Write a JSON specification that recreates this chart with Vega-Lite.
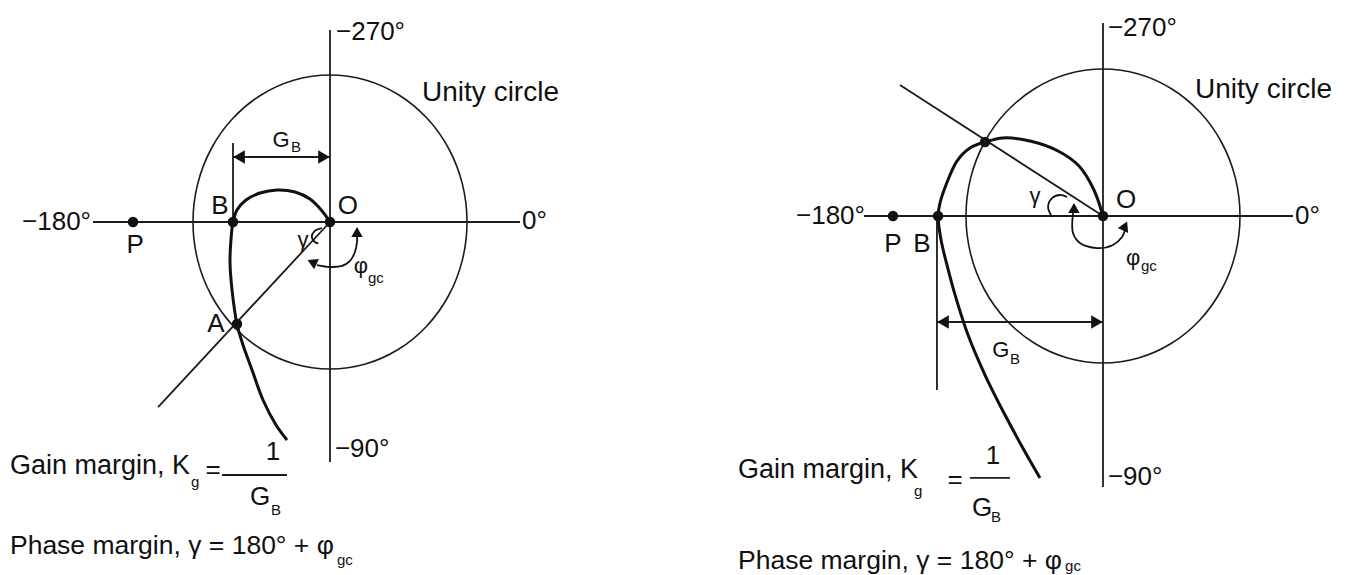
{
  "$schema": "https://vega.github.io/schema/vega-lite/v6.json",
  "padding": 0,
  "spacing": 0,
  "background": "white",
  "config": {"view": {"stroke": null}, "concat": {"spacing": 0}},
  "datasets": {
    "unit": [
      {"i": 0, "x": 1, "y": 0}, {"i": 1, "x": 0.966, "y": 0.259}, {"i": 2, "x": 0.866, "y": 0.5},
      {"i": 3, "x": 0.707, "y": 0.707}, {"i": 4, "x": 0.5, "y": 0.866}, {"i": 5, "x": 0.259, "y": 0.966},
      {"i": 6, "x": 0, "y": 1}, {"i": 7, "x": -0.259, "y": 0.966}, {"i": 8, "x": -0.5, "y": 0.866},
      {"i": 9, "x": -0.707, "y": 0.707}, {"i": 10, "x": -0.866, "y": 0.5}, {"i": 11, "x": -0.966, "y": 0.259},
      {"i": 12, "x": -1, "y": 0}, {"i": 13, "x": -0.966, "y": -0.259}, {"i": 14, "x": -0.866, "y": -0.5},
      {"i": 15, "x": -0.707, "y": -0.707}, {"i": 16, "x": -0.5, "y": -0.866}, {"i": 17, "x": -0.259, "y": -0.966},
      {"i": 18, "x": 0, "y": -1}, {"i": 19, "x": 0.259, "y": -0.966}, {"i": 20, "x": 0.5, "y": -0.866},
      {"i": 21, "x": 0.707, "y": -0.707}, {"i": 22, "x": 0.866, "y": -0.5}, {"i": 23, "x": 0.966, "y": -0.259}
    ]
  },
  "hconcat": [
    {
      "width": 676,
      "height": 575,
      "encoding": {
        "x": {"field": "x", "type": "quantitative", "scale": {"domain": [-2.4088, 2.5255], "nice": false, "zero": false}, "axis": null},
        "y": {"field": "y", "type": "quantitative", "scale": {"domain": [-2.4014, 1.5102], "nice": false, "zero": false}, "axis": null}
      },
      "layer": [
        {
          "data": {"name": "unit"},
          "mark": {"type": "line", "interpolate": "cardinal-closed", "stroke": "#1c1c1c", "strokeWidth": 1.6},
          "encoding": {"order": {"field": "i"}}
        },
        {
          "data": {"values": [
            {"x": 0, "y": 1.306, "x2": 0, "y2": -1.633},
            {"x": -1.73, "y": 0, "x2": 1.387, "y2": 0},
            {"x": -1.255, "y": -1.259, "x2": 0, "y2": 0},
            {"x": -0.708, "y": 0.537, "x2": -0.708, "y2": 0},
            {"x": -0.708, "y": 0.442, "x2": 0, "y2": 0.442},
            {"x": -0.788, "y": -1.721, "x2": -0.314, "y2": -1.721}
          ]},
          "mark": {"type": "rule", "stroke": "#1c1c1c", "strokeWidth": 1.8},
          "encoding": {"x2": {"field": "x2"}, "y2": {"field": "y2"}}
        },
        {
          "data": {"values": [
            {"i": 0, "x": 0, "y": 0}, {"i": 1, "x": -0.058, "y": 0.075}, {"i": 2, "x": -0.146, "y": 0.156},
            {"i": 3, "x": -0.255, "y": 0.204}, {"i": 4, "x": -0.387, "y": 0.218}, {"i": 5, "x": -0.511, "y": 0.197},
            {"i": 6, "x": -0.613, "y": 0.15}, {"i": 7, "x": -0.679, "y": 0.082}, {"i": 8, "x": -0.708, "y": 0},
            {"i": 9, "x": -0.723, "y": -0.122}, {"i": 10, "x": -0.73, "y": -0.272}, {"i": 11, "x": -0.715, "y": -0.463},
            {"i": 12, "x": -0.679, "y": -0.694}, {"i": 13, "x": -0.635, "y": -0.837}, {"i": 14, "x": -0.569, "y": -1.007},
            {"i": 15, "x": -0.489, "y": -1.211}, {"i": 16, "x": -0.394, "y": -1.381}, {"i": 17, "x": -0.314, "y": -1.483}
          ]},
          "mark": {"type": "line", "interpolate": "catmull-rom", "stroke": "#111111", "strokeWidth": 3},
          "encoding": {"order": {"field": "i"}}
        },
        {
          "data": {"values": [
            {"arc": "phi", "i": 0, "x": -0.095, "y": -0.293}, {"arc": "phi", "i": 1, "x": 0, "y": -0.306},
            {"arc": "phi", "i": 2, "x": 0.088, "y": -0.299}, {"arc": "phi", "i": 3, "x": 0.146, "y": -0.265},
            {"arc": "phi", "i": 4, "x": 0.182, "y": -0.204}, {"arc": "phi", "i": 5, "x": 0.197, "y": -0.136},
            {"arc": "phi", "i": 6, "x": 0.197, "y": -0.088},
            {"arc": "gamma", "i": 0, "x": -0.06, "y": -0.041}, {"arc": "gamma", "i": 1, "x": -0.111, "y": -0.061},
            {"arc": "gamma", "i": 2, "x": -0.133, "y": -0.102}, {"arc": "gamma", "i": 3, "x": -0.111, "y": -0.136},
            {"arc": "gamma", "i": 4, "x": -0.085, "y": -0.146}
          ]},
          "mark": {"type": "line", "interpolate": "catmull-rom", "stroke": "#111111", "strokeWidth": 1.8},
          "encoding": {"order": {"field": "i"}, "detail": {"field": "arc"}}
        },
        {
          "data": {"values": [
            {"name": "P", "x": -1.438, "y": 0}, {"name": "B", "x": -0.708, "y": 0},
            {"name": "O", "x": 0, "y": 0}, {"name": "A", "x": -0.679, "y": -0.694}
          ]},
          "mark": {"type": "point", "filled": true, "size": 110, "color": "#111111", "opacity": 1}
        },
        {
          "data": {"values": [{"x": -0.664, "y": 0.442}]},
          "mark": {"type": "point", "shape": "triangle-left", "filled": true, "size": 180, "color": "#111111", "opacity": 1}
        },
        {
          "data": {"values": [{"x": -0.044, "y": 0.442}]},
          "mark": {"type": "point", "shape": "triangle-right", "filled": true, "size": 180, "color": "#111111", "opacity": 1}
        },
        {
          "data": {"values": [{"x": -0.131, "y": -0.272}]},
          "mark": {"type": "point", "shape": "triangle-left", "angle": 25, "filled": true, "size": 130, "color": "#111111", "opacity": 1}
        },
        {
          "data": {"values": [{"x": 0.197, "y": -0.068}]},
          "mark": {"type": "point", "shape": "triangle-up", "filled": true, "size": 130, "color": "#111111", "opacity": 1}
        },
        {
          "data": {"values": [
            {"t": "−270°", "x": 0.044, "y": 1.293},
            {"t": "−180°", "x": -2.248, "y": 0},
            {"t": "0°", "x": 1.401, "y": 0.007},
            {"t": "−90°", "x": 0.036, "y": -1.544}
          ]},
          "mark": {"type": "text", "font": "Liberation Sans", "fontSize": 26, "align": "left", "baseline": "middle", "color": "#111111"},
          "encoding": {"text": {"field": "t"}}
        },
        {
          "data": {"values": [{"t": "Unity circle", "x": 0.672, "y": 0.878}]},
          "mark": {"type": "text", "font": "Liberation Sans", "fontSize": 28, "align": "left", "baseline": "middle", "color": "#111111"},
          "encoding": {"text": {"field": "t"}}
        },
        {
          "data": {"values": [{"t": "Gain margin, K", "x": -2.336, "y": -1.66}]},
          "mark": {"type": "text", "font": "Liberation Sans", "fontSize": 27, "align": "left", "baseline": "middle", "color": "#111111"},
          "encoding": {"text": {"field": "t"}}
        },
        {
          "data": {"values": [{"t": "Phase margin, γ = 180° + φ", "x": -2.336, "y": -2.204}]},
          "mark": {"type": "text", "font": "Liberation Sans", "fontSize": 26.5, "align": "left", "baseline": "middle", "color": "#111111"},
          "encoding": {"text": {"field": "t"}}
        },
        {
          "data": {"values": [
            {"t": "P", "x": -1.423, "y": -0.156},
            {"t": "B", "x": -0.803, "y": 0.109},
            {"t": "O", "x": 0.131, "y": 0.109},
            {"t": "A", "x": -0.832, "y": -0.694},
            {"t": "=", "x": -0.854, "y": -1.687},
            {"t": "1", "x": -0.416, "y": -1.565},
            {"t": "G", "x": -0.511, "y": -1.871}
          ]},
          "mark": {"type": "text", "font": "Liberation Sans", "fontSize": 26, "align": "center", "baseline": "middle", "color": "#111111"},
          "encoding": {"text": {"field": "t"}}
        },
        {
          "data": {"values": [
            {"t": "γ", "x": -0.197, "y": -0.122},
            {"t": "φ", "x": 0.226, "y": -0.299},
            {"t": "G", "x": -0.358, "y": 0.558}
          ]},
          "mark": {"type": "text", "font": "Liberation Sans", "fontSize": 22, "align": "center", "baseline": "middle", "color": "#111111"},
          "encoding": {"text": {"field": "t"}}
        },
        {
          "data": {"values": [
            {"t": "gc", "x": 0.277, "y": -0.381},
            {"t": "B", "x": -0.285, "y": 0.51},
            {"t": "g", "x": -1.015, "y": -1.769},
            {"t": "B", "x": -0.431, "y": -1.959},
            {"t": "gc", "x": 0.051, "y": -2.299}
          ]},
          "mark": {"type": "text", "font": "Liberation Sans", "fontSize": 15, "align": "left", "baseline": "middle", "color": "#111111"},
          "encoding": {"text": {"field": "t"}}
        }
      ]
    },
    {
      "width": 675,
      "height": 575,
      "encoding": {
        "x": {"field": "x", "type": "quantitative", "scale": {"domain": [-3.1168, 1.8102], "nice": false, "zero": false}, "axis": null},
        "y": {"field": "y", "type": "quantitative", "scale": {"domain": [-2.4422, 1.4694], "nice": false, "zero": false}, "axis": null}
      },
      "layer": [
        {
          "data": {"name": "unit"},
          "mark": {"type": "line", "interpolate": "cardinal-closed", "stroke": "#1c1c1c", "strokeWidth": 1.6},
          "encoding": {"order": {"field": "i"}}
        },
        {
          "data": {"values": [
            {"x": 0, "y": 1.313, "x2": 0, "y2": -1.844},
            {"x": -1.745, "y": 0, "x2": 1.387, "y2": 0},
            {"x": -1.482, "y": 0.891, "x2": 0, "y2": 0},
            {"x": -1.212, "y": 0, "x2": -1.212, "y2": -1.184},
            {"x": -1.212, "y": -0.721, "x2": 0, "y2": -0.721},
            {"x": -0.971, "y": -1.782, "x2": -0.679, "y2": -1.782}
          ]},
          "mark": {"type": "rule", "stroke": "#1c1c1c", "strokeWidth": 1.8},
          "encoding": {"x2": {"field": "x2"}, "y2": {"field": "y2"}}
        },
        {
          "data": {"values": [
            {"i": 0, "x": 0, "y": 0}, {"i": 1, "x": -0.066, "y": 0.177}, {"i": 2, "x": -0.175, "y": 0.34},
            {"i": 3, "x": -0.328, "y": 0.442}, {"i": 4, "x": -0.533, "y": 0.51}, {"i": 5, "x": -0.73, "y": 0.531},
            {"i": 6, "x": -0.861, "y": 0.503}, {"i": 7, "x": -0.971, "y": 0.463}, {"i": 8, "x": -1.066, "y": 0.374},
            {"i": 9, "x": -1.146, "y": 0.211}, {"i": 10, "x": -1.19, "y": 0.088}, {"i": 11, "x": -1.204, "y": 0},
            {"i": 12, "x": -1.182, "y": -0.163}, {"i": 13, "x": -1.139, "y": -0.333}, {"i": 14, "x": -1.08, "y": -0.537},
            {"i": 15, "x": -0.985, "y": -0.81}, {"i": 16, "x": -0.861, "y": -1.082}, {"i": 17, "x": -0.715, "y": -1.354},
            {"i": 18, "x": -0.577, "y": -1.592}, {"i": 19, "x": -0.46, "y": -1.782}
          ]},
          "mark": {"type": "line", "interpolate": "catmull-rom", "stroke": "#111111", "strokeWidth": 3},
          "encoding": {"order": {"field": "i"}}
        },
        {
          "data": {"values": [
            {"arc": "phi", "i": 0, "x": -0.219, "y": 0.02}, {"arc": "phi", "i": 1, "x": -0.219, "y": -0.116},
            {"arc": "phi", "i": 2, "x": -0.168, "y": -0.184}, {"arc": "phi", "i": 3, "x": -0.044, "y": -0.218},
            {"arc": "phi", "i": 4, "x": 0.073, "y": -0.197}, {"arc": "phi", "i": 5, "x": 0.139, "y": -0.143},
            {"arc": "phi", "i": 6, "x": 0.161, "y": -0.095},
            {"arc": "gamma", "i": 0, "x": -0.263, "y": 0.129}, {"arc": "gamma", "i": 1, "x": -0.314, "y": 0.143},
            {"arc": "gamma", "i": 2, "x": -0.372, "y": 0.122}, {"arc": "gamma", "i": 3, "x": -0.401, "y": 0.061},
            {"arc": "gamma", "i": 4, "x": -0.372, "y": -0.007}
          ]},
          "mark": {"type": "line", "interpolate": "catmull-rom", "stroke": "#111111", "strokeWidth": 1.8},
          "encoding": {"order": {"field": "i"}, "detail": {"field": "arc"}}
        },
        {
          "data": {"values": [
            {"name": "P", "x": -1.533, "y": 0}, {"name": "B", "x": -1.204, "y": 0},
            {"name": "gc", "x": -0.861, "y": 0.503}, {"name": "O", "x": 0, "y": 0}
          ]},
          "mark": {"type": "point", "filled": true, "size": 110, "color": "#111111", "opacity": 1}
        },
        {
          "data": {"values": [{"x": -1.168, "y": -0.721}]},
          "mark": {"type": "point", "shape": "triangle-left", "filled": true, "size": 180, "color": "#111111", "opacity": 1}
        },
        {
          "data": {"values": [{"x": -0.044, "y": -0.721}]},
          "mark": {"type": "point", "shape": "triangle-right", "filled": true, "size": 180, "color": "#111111", "opacity": 1}
        },
        {
          "data": {"values": [{"x": -0.212, "y": 0.054}]},
          "mark": {"type": "point", "shape": "triangle-up", "filled": true, "size": 130, "color": "#111111", "opacity": 1}
        },
        {
          "data": {"values": [{"x": 0.161, "y": -0.068}]},
          "mark": {"type": "point", "shape": "triangle-up", "angle": 25, "filled": true, "size": 130, "color": "#111111", "opacity": 1}
        },
        {
          "data": {"values": [
            {"t": "−270°", "x": 0.036, "y": 1.279},
            {"t": "−180°", "x": -2.241, "y": 0},
            {"t": "0°", "x": 1.401, "y": 0},
            {"t": "−90°", "x": 0.036, "y": -1.776}
          ]},
          "mark": {"type": "text", "font": "Liberation Sans", "fontSize": 26, "align": "left", "baseline": "middle", "color": "#111111"},
          "encoding": {"text": {"field": "t"}}
        },
        {
          "data": {"values": [{"t": "Unity circle", "x": 0.672, "y": 0.857}]},
          "mark": {"type": "text", "font": "Liberation Sans", "fontSize": 28, "align": "left", "baseline": "middle", "color": "#111111"},
          "encoding": {"text": {"field": "t"}}
        },
        {
          "data": {"values": [{"t": "Gain margin, K", "x": -2.664, "y": -1.728}]},
          "mark": {"type": "text", "font": "Liberation Sans", "fontSize": 27, "align": "left", "baseline": "middle", "color": "#111111"},
          "encoding": {"text": {"field": "t"}}
        },
        {
          "data": {"values": [{"t": "Phase margin, γ = 180° + φ", "x": -2.664, "y": -2.347}]},
          "mark": {"type": "text", "font": "Liberation Sans", "fontSize": 26.5, "align": "left", "baseline": "middle", "color": "#111111"},
          "encoding": {"text": {"field": "t"}}
        },
        {
          "data": {"values": [
            {"t": "P", "x": -1.533, "y": -0.19},
            {"t": "B", "x": -1.321, "y": -0.19},
            {"t": "O", "x": 0.168, "y": 0.109},
            {"t": "=", "x": -1.08, "y": -1.796},
            {"t": "1", "x": -0.803, "y": -1.633},
            {"t": "G", "x": -0.883, "y": -1.986}
          ]},
          "mark": {"type": "text", "font": "Liberation Sans", "fontSize": 26, "align": "center", "baseline": "middle", "color": "#111111"},
          "encoding": {"text": {"field": "t"}}
        },
        {
          "data": {"values": [
            {"t": "γ", "x": -0.496, "y": 0.136},
            {"t": "φ", "x": 0.219, "y": -0.286},
            {"t": "G", "x": -0.745, "y": -0.912}
          ]},
          "mark": {"type": "text", "font": "Liberation Sans", "fontSize": 22, "align": "center", "baseline": "middle", "color": "#111111"},
          "encoding": {"text": {"field": "t"}}
        },
        {
          "data": {"values": [
            {"t": "gc", "x": 0.277, "y": -0.34},
            {"t": "B", "x": -0.679, "y": -0.973},
            {"t": "g", "x": -1.38, "y": -1.871},
            {"t": "B", "x": -0.818, "y": -2.048},
            {"t": "gc", "x": -0.277, "y": -2.381}
          ]},
          "mark": {"type": "text", "font": "Liberation Sans", "fontSize": 15, "align": "left", "baseline": "middle", "color": "#111111"},
          "encoding": {"text": {"field": "t"}}
        }
      ]
    }
  ]
}
